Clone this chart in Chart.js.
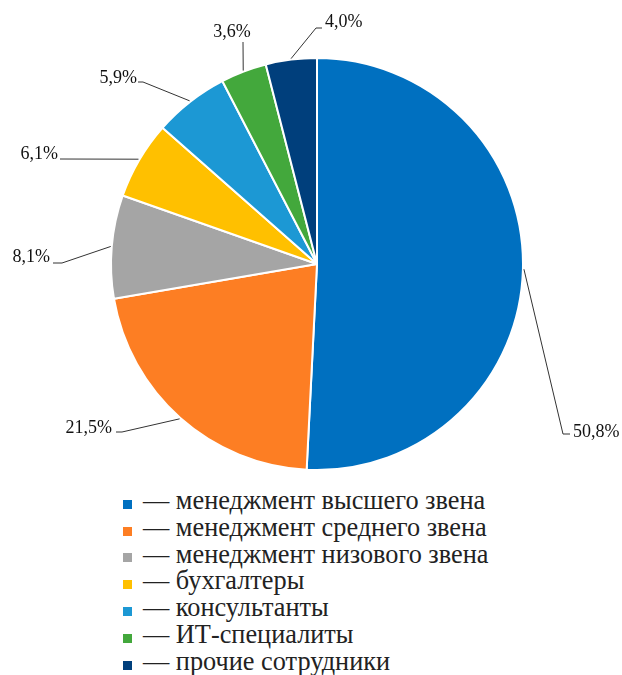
<!DOCTYPE html>
<html>
<head>
<meta charset="utf-8">
<script src="https://cdn.jsdelivr.net/npm/chart.js@4/dist/chart.umd.min.js"></script>
<style>
  html, body { margin: 0; padding: 0; background: #fff; }
  #wrap { position: relative; width: 622px; height: 675px; overflow: hidden; }
  #pie { position: absolute; left: 0; top: 0; }
  #legend { position: absolute; left: 123px; top: 491px; font-family: "Liberation Serif", "Times New Roman", serif; font-size: 26.3px; color: #222; }
  .row { height: 26.8px; line-height: 26.8px; white-space: nowrap; display: flex; align-items: center; }
  .box { width: 9px; height: 9px; margin-right: 11px; flex: none; }
  .txt { position: relative; top: -3px; }
</style>
</head>
<body>
<div id="wrap">
  <canvas id="pie" width="622" height="480"></canvas>
  <div id="legend"></div>
</div>
<script>
// Staff structure, percent
const categories = [
  'менеджмент высшего звена',
  'менеджмент среднего звена',
  'менеджмент низового звена',
  'бухгалтеры',
  'консультанты',
  'ИТ-специалиты',
  'прочие сотрудники'
];
const shares = [50.8, 21.5, 8.1, 6.1, 5.9, 3.6, 4.0];
const valueLabels = ['50,8%', '21,5%', '8,1%', '6,1%', '5,9%', '3,6%', '4,0%'];
const sliceColors = ['#0070C0', '#FD7E23', '#A5A5A5', '#FFC000', '#1C98D4', '#43A83C', '#003F7C'];

// Leader geometry relative to the pie centre: elbow, line end, text anchor, alignment
const leaderLayout = [
  { elbow: [246, 170], end: [253, 170], text: [256, 168], align: 'left' },
  { elbow: [-195, 168], end: [-201, 168], text: [-205, 164], align: 'right' },
  { elbow: [-255, -1], end: [-264, -1], text: [-267, -7], align: 'right' },
  { elbow: [-257, -105], end: [-257, -105], text: [-259, -110], align: 'right' },
  { elbow: [-174, -182], end: [-179, -182], text: [-180, -186], align: 'right' },
  { elbow: [-74, -222], end: [-74, -222], text: [-85, -232], align: 'center' },
  { elbow: [-1, -236], end: [5, -236], text: [8, -242], align: 'left' }
];

const leaderLabels = {
  id: 'leaderLabels',
  afterDatasetsDraw(chart) {
    const ctx = chart.ctx;
    const arcs = chart.getDatasetMeta(0).data;
    ctx.save();
    ctx.font = '18px "Liberation Serif", "Times New Roman", serif';
    ctx.textBaseline = 'middle';
    arcs.forEach((arc, i) => {
      const { x, y, startAngle, endAngle, outerRadius } = arc.getProps(['x', 'y', 'startAngle', 'endAngle', 'outerRadius'], true);
      const mid = (startAngle + endAngle) / 2;
      const ax = x + Math.cos(mid) * (outerRadius + 1);
      const ay = y + Math.sin(mid) * (outerRadius + 1);
      const L = leaderLayout[i];
      ctx.strokeStyle = '#333';
      ctx.lineWidth = 1;
      ctx.beginPath();
      ctx.moveTo(ax, ay);
      ctx.lineTo(x + L.elbow[0], y + L.elbow[1]);
      ctx.lineTo(x + L.end[0], y + L.end[1]);
      ctx.stroke();
      ctx.fillStyle = '#111';
      ctx.textAlign = L.align;
      ctx.fillText(valueLabels[i], x + L.text[0], y + L.text[1]);
    });
    ctx.restore();
  }
};

new Chart(document.getElementById('pie'), {
  type: 'pie',
  data: {
    labels: categories,
    datasets: [{
      data: shares,
      backgroundColor: sliceColors,
      borderColor: '#fff',
      borderWidth: 2
    }]
  },
  options: {
    responsive: false,
    animation: false,
    layout: { padding: { left: 12, right: 0, top: 57, bottom: 9 } },
    plugins: { legend: { display: false }, tooltip: { enabled: false } }
  },
  plugins: [leaderLabels]
});

// Legend rows built from the same category and colour lists
const legend = document.getElementById('legend');
categories.forEach((name, i) => {
  const row = document.createElement('div');
  row.className = 'row';
  const box = document.createElement('span');
  box.className = 'box';
  box.style.background = sliceColors[i];
  const txt = document.createElement('span');
  txt.className = 'txt';
  txt.textContent = '— ' + name;
  row.appendChild(box);
  row.appendChild(txt);
  legend.appendChild(row);
});
</script>
</body>
</html>
